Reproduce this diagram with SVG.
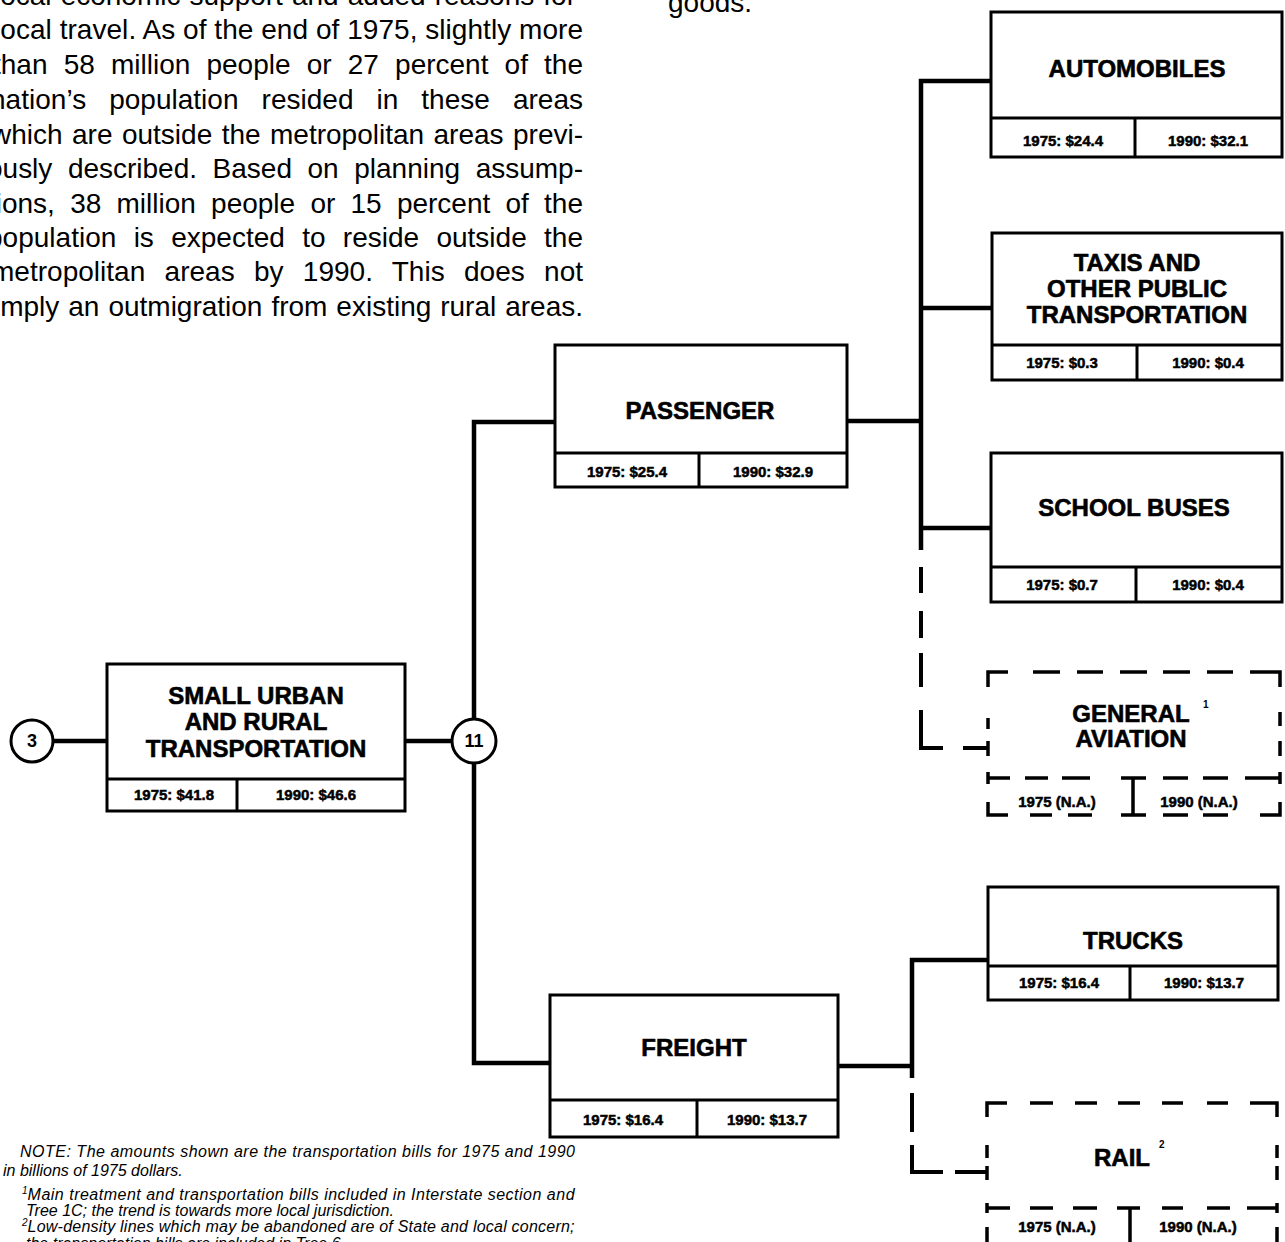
<svg xmlns="http://www.w3.org/2000/svg" width="1285" height="1242" viewBox="0 0 1285 1242">
<style>
.bx{fill:#fff;stroke:#000;stroke-width:3}
.ln{fill:none;stroke:#000;stroke-width:3}
.cn{fill:none;stroke:#000;stroke-width:4.5}
.ds{fill:none;stroke:#000;stroke-width:4}
.db{fill:none;stroke:#000;stroke-width:3.5}
.t{font-family:"Liberation Sans",Arial,sans-serif;font-weight:bold;font-size:24px;text-anchor:middle;fill:#000;stroke:#000;stroke-width:0.6}
.v{font-family:"Liberation Sans",Arial,sans-serif;font-weight:bold;font-size:15px;text-anchor:middle;fill:#000;stroke:#000;stroke-width:0.5}
.c{font-family:"Liberation Sans",Arial,sans-serif;font-weight:bold;font-size:18px;text-anchor:middle;fill:#000}
.b{font-family:"Liberation Sans",Arial,sans-serif;font-size:28px;fill:#000}
.n{font-family:"Liberation Sans",Arial,sans-serif;font-style:italic;font-size:16px;fill:#000}
.sup{font-family:"Liberation Sans",Arial,sans-serif;font-weight:bold;font-size:10px;fill:#000}
</style>
<rect width="1285" height="1242" fill="#fff"/>

<g id="body-text">
<text class="b" x="-6" y="5" word-spacing="1.3" textLength="582" lengthAdjust="spacing">local economic support and added reasons for</text>
<text class="b" x="-6" y="39" textLength="589" lengthAdjust="spacing">local travel. As of the end of 1975, slightly more</text>
<text class="b" x="-7" y="74" word-spacing="8.4" textLength="590" lengthAdjust="spacing">than 58 million people or 27 percent of the</text>
<text class="b" x="-10" y="109" word-spacing="15.2" textLength="593" lengthAdjust="spacing">nation’s population resided in these areas</text>
<text class="b" x="-9" y="144" word-spacing="1.7" textLength="592" lengthAdjust="spacing">which are outside the metropolitan areas previ-</text>
<text class="b" x="-13" y="178" word-spacing="7.8" textLength="596" lengthAdjust="spacing">ously described. Based on planning assump-</text>
<text class="b" x="-12" y="213" word-spacing="7.5" textLength="595" lengthAdjust="spacing">tions, 38 million people or 15 percent of the</text>
<text class="b" x="-13" y="247" word-spacing="9.5" textLength="596" lengthAdjust="spacing">population is expected to reside outside the</text>
<text class="b" x="-9" y="281" word-spacing="11.5" textLength="592" lengthAdjust="spacing">metropolitan areas by 1990. This does not</text>
<text class="b" x="-6" y="316" word-spacing="1.2" textLength="589" lengthAdjust="spacing">imply an outmigration from existing rural areas.</text>
<text class="b" x="668" y="12">goods.</text>
</g>

<g id="notes">
<text class="n" x="20" y="1157" textLength="555" lengthAdjust="spacing">NOTE: The amounts shown are the transportation bills for 1975 and 1990</text>
<text class="n" x="3" y="1176">in billions of 1975 dollars.</text>
<text class="n" x="22" y="1200"><tspan font-size="10" dy="-6">1</tspan><tspan dy="6" textLength="547" lengthAdjust="spacing">Main treatment and transportation bills included in Interstate section and</tspan></text>
<text class="n" x="26" y="1216">Tree 1C; the trend is towards more local jurisdiction.</text>
<text class="n" x="22" y="1232"><tspan font-size="10" dy="-6">2</tspan><tspan dy="6" textLength="547" lengthAdjust="spacing">Low-density lines which may be abandoned are of State and local concern;</tspan></text>
<text class="n" x="26" y="1249">the transportation bills are included in Tree 6.</text>
</g>

<g id="connectors">
<path class="cn" d="M54,741 H107"/>
<path class="cn" d="M405,741 H452"/>
<path class="cn" d="M555,422 H474 V1063 H550"/>
<path class="cn" d="M847,421 H921"/>
<path class="cn" d="M991,81 H921 V550"/>
<path class="cn" d="M921,308 H992"/>
<path class="cn" d="M921,528 H991"/>
<path class="ds" d="M921,567 V593 M921,611 V638 M921,653 V687 M921,710 V748 H943 M963,748 H988"/>
<path class="cn" d="M838,1066 H912"/>
<path class="cn" d="M988,960 H912 V1078"/>
<path class="ds" d="M912,1093 V1132 M912,1145 V1172 H943 M955,1172 H987"/>
</g>

<g id="node-3">
<circle cx="32" cy="741" r="21" fill="#fff" stroke="#000" stroke-width="3"/>
<text class="c" x="32" y="747">3</text>
</g>

<g id="node-small-urban">
<rect class="bx" x="107" y="664" width="298" height="147"/>
<path class="ln" d="M107,779 H405 M237,779 V811"/>
<text class="t" x="256" y="704">SMALL URBAN</text>
<text class="t" x="256" y="730">AND RURAL</text>
<text class="t" x="256" y="757">TRANSPORTATION</text>
<text class="v" x="174" y="800">1975: $41.8</text>
<text class="v" x="316" y="800">1990: $46.6</text>
</g>

<g id="node-11">
<circle cx="474" cy="741" r="22" fill="#fff" stroke="#000" stroke-width="3"/>
<text class="c" x="474" y="747">11</text>
</g>

<g id="node-passenger">
<rect class="bx" x="555" y="345" width="292" height="142"/>
<path class="ln" d="M555,453 H847 M699,453 V487"/>
<text class="t" x="700" y="419">PASSENGER</text>
<text class="v" x="627" y="477">1975: $25.4</text>
<text class="v" x="773" y="477">1990: $32.9</text>
</g>

<g id="node-freight">
<rect class="bx" x="550" y="995" width="288" height="142"/>
<path class="ln" d="M550,1100 H838 M697,1100 V1137"/>
<text class="t" x="694" y="1056">FREIGHT</text>
<text class="v" x="623" y="1125">1975: $16.4</text>
<text class="v" x="767" y="1125">1990: $13.7</text>
</g>

<g id="node-automobiles">
<rect class="bx" x="991" y="12" width="291" height="145"/>
<path class="ln" d="M991,118 H1282 M1135,118 V157"/>
<text class="t" x="1137" y="77">AUTOMOBILES</text>
<text class="v" x="1063" y="146">1975: $24.4</text>
<text class="v" x="1208" y="146">1990: $32.1</text>
</g>

<g id="node-taxis">
<rect class="bx" x="992" y="233" width="290" height="147"/>
<path class="ln" d="M992,345 H1282 M1137,345 V380"/>
<text class="t" x="1137" y="271">TAXIS AND</text>
<text class="t" x="1137" y="297">OTHER PUBLIC</text>
<text class="t" x="1137" y="323">TRANSPORTATION</text>
<text class="v" x="1062" y="368">1975: $0.3</text>
<text class="v" x="1208" y="368">1990: $0.4</text>
</g>

<g id="node-school-buses">
<rect class="bx" x="991" y="453" width="291" height="149"/>
<path class="ln" d="M991,567 H1282 M1136,567 V602"/>
<text class="t" x="1134" y="516">SCHOOL BUSES</text>
<text class="v" x="1062" y="590">1975: $0.7</text>
<text class="v" x="1208" y="590">1990: $0.4</text>
</g>

<g id="node-general-aviation">
<path class="db" d="M988,687 V672 H1008 M1033,672 H1060 M1077,672 H1103 M1120,672 H1147 M1163,672 H1190 M1207,672 H1233 M1250,672 H1280 V687"/>
<path class="db" d="M988,718 V729 M988,741 V756 M988,772 V784 M988,802 V815 H1008"/>
<path class="db" d="M1280,712 V726 M1280,741 V756 M1280,772 V784 M1280,802 V815 H1260"/>
<path class="db" d="M988,778 H1010 M1025,778 H1048 M1062,778 H1090 M1121,778 H1146 M1163,778 H1188 M1203,778 H1228 M1245,778 H1280"/>
<path class="db" d="M1030,815 H1052 M1068,815 H1092 M1121,815 H1146 M1163,815 H1188 M1203,815 H1228"/>
<path class="db" d="M1133,778 V815"/>
<text class="t" x="1131" y="722">GENERAL</text>
<text class="sup" x="1203" y="708">1</text>
<text class="t" x="1131" y="747">AVIATION</text>
<text class="v" x="1057" y="807">1975 (N.A.)</text>
<text class="v" x="1199" y="807">1990 (N.A.)</text>
</g>

<g id="node-trucks">
<rect class="bx" x="988" y="887" width="290" height="113"/>
<path class="ln" d="M988,966 H1278 M1130,966 V1000"/>
<text class="t" x="1133" y="949">TRUCKS</text>
<text class="v" x="1059" y="988">1975: $16.4</text>
<text class="v" x="1204" y="988">1990: $13.7</text>
</g>

<g id="node-rail">
<path class="db" d="M987,1117 V1103 H1007 M1030,1103 H1053 M1075,1103 H1097 M1118,1103 H1140 M1162,1103 H1183 M1207,1103 H1228 M1250,1103 H1277 V1117"/>
<path class="db" d="M987,1145 V1158 M987,1166 V1180 M987,1203 V1213 M987,1227 V1242"/>
<path class="db" d="M1277,1145 V1158 M1277,1166 V1180 M1277,1203 V1213 M1277,1227 V1242"/>
<path class="db" d="M987,1208 H1010 M1030,1208 H1053 M1073,1208 H1097 M1117,1208 H1140 M1162,1208 H1183 M1207,1208 H1230 M1247,1208 H1277"/>
<path class="db" d="M1130,1208 V1242"/>
<text class="t" x="1122" y="1166">RAIL</text>
<text class="sup" x="1159" y="1148">2</text>
<text class="v" x="1057" y="1232">1975 (N.A.)</text>
<text class="v" x="1198" y="1232">1990 (N.A.)</text>
</g>
</svg>
